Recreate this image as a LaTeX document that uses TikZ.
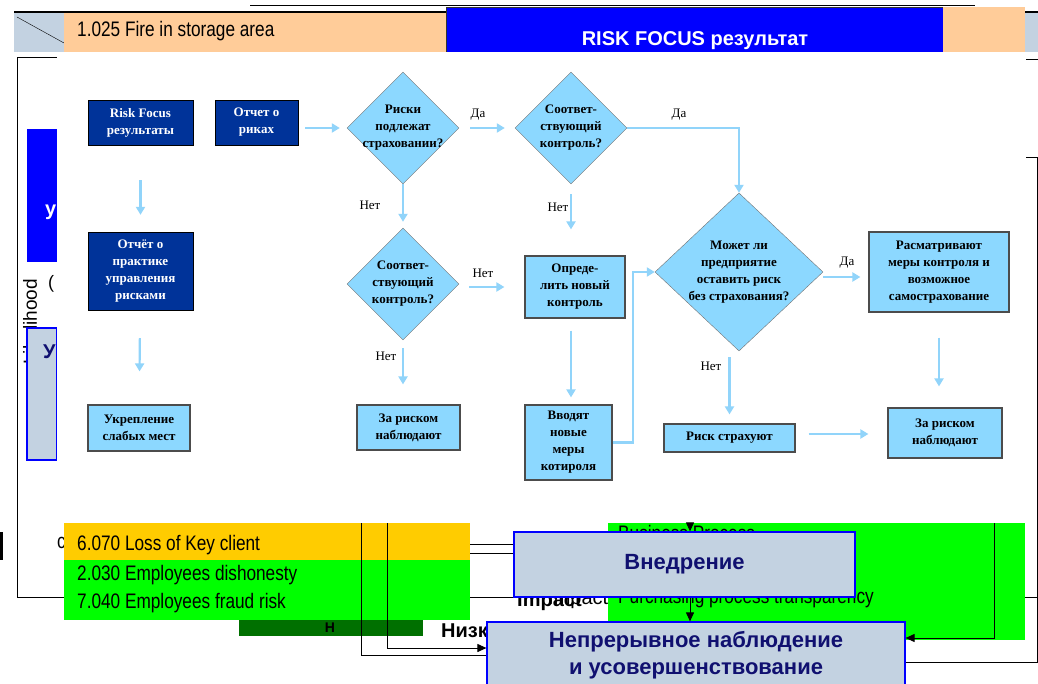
\documentclass[tikz,border=0pt]{standalone}
\usepackage{fontspec}
\setmainfont{Liberation Serif}
\newfontfamily\headfont{Liberation Sans}
\newfontfamily\narrowfont[FakeStretch=0.82]{Liberation Sans}
\usetikzlibrary{shapes.geometric,arrows.meta}

\definecolor{navybox}{RGB}{0,51,153}
\definecolor{skybox}{RGB}{140,216,255}
\definecolor{skyline}{RGB}{145,212,250}
\definecolor{peach}{RGB}{255,204,153}
\definecolor{steel}{RGB}{195,210,225}
\definecolor{ink}{RGB}{16,16,112}
\definecolor{amber}{RGB}{255,204,0}
\definecolor{lime}{RGB}{0,255,0}
\definecolor{forest}{RGB}{0,112,0}

\tikzset{
  darkbox/.style={draw=black, fill=navybox, text=white, align=center, inner sep=0pt,
    font=\fontsize{13}{17}\selectfont\bfseries},
  lightbox/.style={draw=black!70, line width=1.2pt, fill=skybox, align=center, inner sep=0pt,
    font=\fontsize{13}{17}\selectfont\bfseries},
  decision/.style={diamond, draw=black!55, fill=skybox, align=center, inner sep=-20pt,
    font=\fontsize{13}{17}\selectfont\bfseries},
  flow/.style={draw=skyline, line width=2.2pt, -{Triangle[width=9pt,length=8pt]}},
  answer/.style={font=\fontsize{13}{15}\selectfont},
  stagebox/.style={draw=blue, line width=1.2pt, fill=steel, text=ink, align=center, inner sep=0pt,
    font=\headfont\bfseries\fontsize{22}{27}\selectfont},
  riskrow/.style={anchor=west, inner sep=0pt, font=\narrowfont\fontsize{21}{24}\selectfont},
  plate/.style={inner sep=0pt},
  wire/.style={draw=black, line width=1pt},
  wirearrow/.style={draw=black, line width=1pt, -{Triangle[width=8pt,length=9pt]}},
}

\begin{document}
\begin{tikzpicture}[x=1pt,y=-1pt]
  \useasboundingbox (0,0) rectangle (1038,684);

  % slides lying underneath
  \draw[wire] (57,58) -- (17,58) -- (17,597) -- (1037,597);
  \draw[wire] (1026,60) -- (1038,60);
  \draw[wire] (250,6) -- (975,6);
  \draw[line width=2.5pt] (14,12) -- (446,12);
  \draw[line width=2.5pt] (1025,12) -- (1038,12);
  \node[plate, fill=steel, minimum width=50, minimum height=39] (cornerbox) at (39,33) {};
  \draw (17,17) -- (64,43);
  \node[plate, fill=peach, minimum width=382, minimum height=39] (firebox) at (255,32.5) {};
  \node[riskrow] (fire) at (77,31) {1.025 Fire in storage area};
  \node[plate, draw=black!80, fill=blue, minimum width=497, minimum height=45] (headbox) at (694.5,29.5) {};
  \node[text=white, font=\headfont\bfseries\fontsize{20}{24}\selectfont] (headtxt) at (695,41) {RISK FOCUS результат};
  \node[plate, fill=peach, minimum width=82, minimum height=45] (peachR) at (984,29.5) {};
  \node[plate, fill=steel, minimum width=13, minimum height=39] (steelR) at (1031.5,32.5) {};

  \node[plate, fill=blue, minimum width=30, minimum height=133] (leftblue) at (42,195.5) {};
  \node[plate, anchor=west, text=white, font=\headfont\bfseries\fontsize{20}{24}\selectfont] (leftblueTxt) at (45,212) {у};
  \node[plate, rotate=90, anchor=east, font=\headfont\fontsize{19}{22}\selectfont] (likely) at (30,279) {Likelihood};
  \node[plate, font=\headfont\fontsize{18}{20}\selectfont] (paren) at (51,284) {(};
  \node[stagebox, minimum width=30, minimum height=132] (leftsteel) at (42,394) {};
  \node[plate, anchor=west, text=ink, font=\headfont\bfseries\fontsize{20}{24}\selectfont] (leftsteelTxt) at (43,352) {У};

  \node[plate, anchor=west, font=\headfont\bfseries\fontsize{20}{24}\selectfont] (impactA) at (517,602) {Impact};
  \node[plate, anchor=west, font=\headfont\fontsize{20}{24}\selectfont] (impactB) at (548,600) {Impact};
  \node[plate, fill=lime, minimum width=417, minimum height=117] (procbox) at (816.5,581.5) {};
  \node[riskrow] (bizproc) at (618,533) {Business Process};
  \node[riskrow] (purch) at (618,598) {Purchasing process transparency};

  % the flowchart
  \node[plate, fill=white, minimum width=968, minimum height=471] (panel) at (541,287.5) {};

  \node[darkbox, minimum width=105, minimum height=45] (rfres) at (140.5,122.5) {Risk Focus\\результаты};
  \node[darkbox, minimum width=83, minimum height=45] (rrep) at (256.5,122.5) {Отчет о\\риках};
  \node[darkbox, minimum width=105, minimum height=78] (prep) at (140.5,271) {Отчёт о\\практике\\управления\\рисками};
  \node[lightbox, minimum width=102, minimum height=46] (weak) at (139,428) {Укрепление\\слабых мест};
  \node[lightbox, minimum width=103, minimum height=45] (watchA) at (408.5,427.5) {За риском\\наблюдают};
  \node[lightbox, minimum width=100, minimum height=62] (newctl) at (575,287) {Опреде-\\лить новый\\контроль};
  \node[lightbox, minimum width=87, minimum height=75] (addctl) at (568.5,442.5) {Вводят\\новые\\меры\\котироля};
  \node[lightbox, minimum width=140, minimum height=80] (selfins) at (939,272) {Расматривают\\меры контроля и\\возможное\\самострахование};
  \node[lightbox, minimum width=131, minimum height=28] (insure) at (729.5,438) {Риск страхуют};
  \node[lightbox, minimum width=114, minimum height=50] (watchB) at (945,433) {За риском\\наблюдают};

  \node[decision, minimum width=112, minimum height=112] (qins) at (403,128) {Риски\\подлежат\\страховании?};
  \node[decision, minimum width=112, minimum height=112] (qctlA) at (571,128) {Соответ-\\ствующий\\контроль?};
  \node[decision, minimum width=112, minimum height=112] (qctlB) at (403,284) {Соответ-\\ствующий\\контроль?};
  \node[decision, minimum width=168, minimum height=158] (qkeep) at (739,272) {Может ли\\предприятие\\оставить риск\\без страхования?};

  \draw[flow, shorten <=35pt, shorten >=17pt] (rfres) -- (prep);
  \draw[flow, shorten <=28pt, shorten >=33pt] (prep) -- (weak);
  \draw[flow, shorten <=7pt, shorten >=7pt] (rrep.east |- qins) -- (qins.west);
  \draw[flow, shorten <=11pt, shorten >=10pt] (qins) -- (qctlA);
  \draw[flow] (qctlA.east) -| (qkeep.north);
  \draw[flow, shorten >=6pt] (qins) -- (qctlB);
  \draw[flow, shorten <=10pt, shorten >=26pt] (qctlA.south) -- (qctlA.south |- newctl.north);
  \draw[flow, shorten <=10pt, shorten >=20pt] (qctlB.east |- newctl) -- (newctl.west);
  \draw[flow, shorten <=8pt, shorten >=20pt] (qctlB.south) -- (qctlB.south |- watchA.north);
  \draw[flow, shorten <=12pt, shorten >=7pt] ([xshift=-4pt]newctl.south) -- ([xshift=-4pt]newctl.south |- addctl.north);
  \draw[flow] (addctl.east) -- ++(20,0) |- (qkeep.west);
  \draw[flow, shorten >=8pt] ([yshift=-5pt]qkeep.east) -- ([yshift=-5pt]qkeep.east -| selfins.west);
  \draw[flow, shorten <=6pt, shorten >=9pt] (insure.north |- qkeep.south) -- (insure.north);
  \draw[flow, shorten <=25pt, shorten >=21pt] (selfins.south) -- (selfins.south |- watchB.north);
  \draw[flow, shorten <=13pt, shorten >=19pt] ([yshift=4pt]insure.east) -- ([yshift=4pt]insure.east -| watchB.west);

  \node[answer] (yesA) at (478,115) {Да};
  \node[answer] (yesB) at (679,115) {Да};
  \node[answer] (noA) at (370,205) {Нет};
  \node[answer] (noB) at (558,207) {Нет};
  \node[answer] (noC) at (483,273) {Нет};
  \node[answer] (noD) at (386,356) {Нет};
  \node[answer] (yesC) at (847,263) {Да};
  \node[answer] (noE) at (711,366) {Нет};

  % risk rows and stages in front
  \node[riskrow] (cfrag) at (57,543) {c};
  \draw[line width=3pt] (1.5,532) -- (1.5,560);
  \node[plate, fill=amber, minimum width=406, minimum height=37] (loss) at (267,541.5) {};
  \node[plate, fill=lime, minimum width=406, minimum height=60] (staff) at (267,590) {};
  \node[riskrow] (rowA) at (77,545) {6.070 Loss of Key client};
  \node[riskrow] (rowB) at (77,575) {2.030 Employees dishonesty};
  \node[riskrow] (rowC) at (77,603) {7.040 Employees fraud risk};
  \node[plate, fill=forest, minimum width=184, minimum height=16] (lowbar) at (331,628) {};
  \node[plate, font=\headfont\bfseries\fontsize{14}{16}\selectfont] (lowbarTxt) at (330,628) {Н};
  \node[plate, anchor=west, font=\headfont\bfseries\fontsize{20}{24}\selectfont] (lowtxt) at (441,630) {Низкий};

  \node[stagebox, minimum width=341, minimum height=65] (impl) at (684.5,564.5) {Внедрение};
  \node[stagebox, minimum width=418, minimum height=66] (mon) at (696,655) {Непрерывное наблюдение\\и усовершенствование};

  \coordinate (tapA) at (361,523);
  \coordinate (tapB) at (387,523);
  \coordinate (tapC) at (994,523);
  \coordinate (tapD) at (1026,158);
  \coordinate (tapE) at (690,523);
  \draw[wire] ([yshift=-2.5pt]loss.east) -- ([yshift=-2.5pt]loss.east -| impl.west);
  \draw[wire] ([yshift=-11.5pt]loss.east) -- ([yshift=-11.5pt]loss.east -| impl.west);
  \draw[wire] (tapA) |- (mon.west);
  \draw[wirearrow] (tapB) |- ([yshift=7pt]mon.west);
  \draw[wirearrow] (tapC) |- ([yshift=17pt]mon.east);
  \draw[wire] (tapD) -- (1037,158) |- ([yshift=-7pt]mon.east);
  \draw[wirearrow] (tapE) -- (tapE |- impl.north);
  \draw[wirearrow] ([xshift=5.5pt]impl.south) -- ([xshift=5.5pt]impl.south |- mon.north);
\end{tikzpicture}
\end{document}
